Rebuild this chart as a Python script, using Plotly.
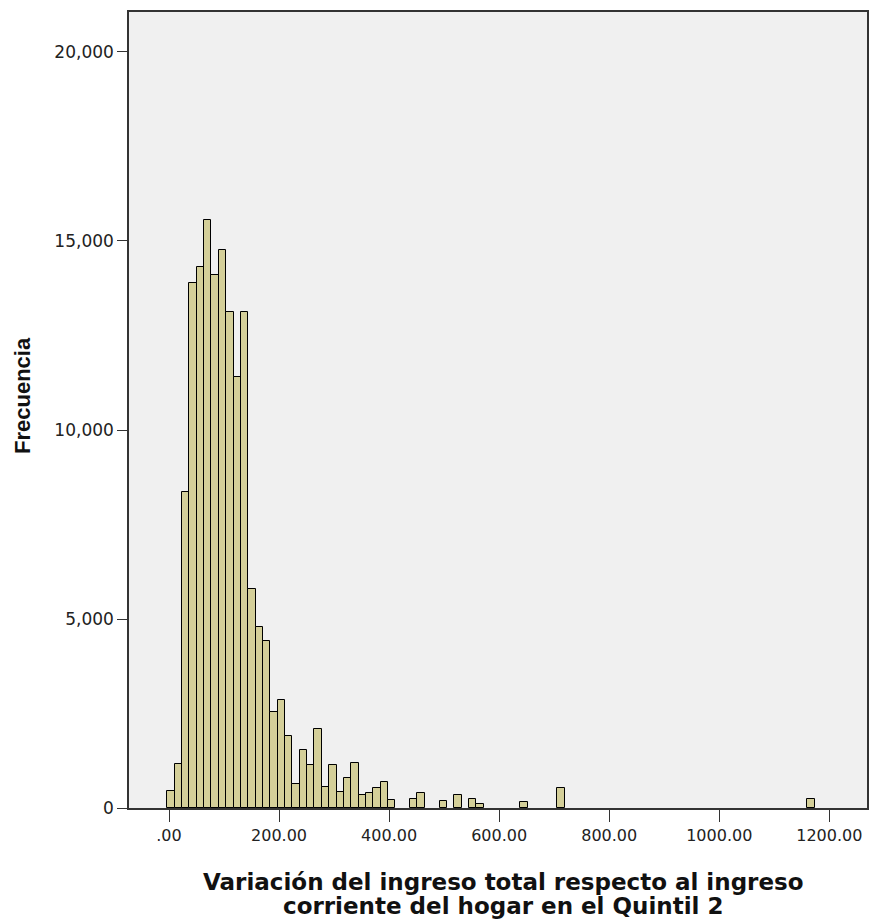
import plotly.graph_objects as go

# Histogram data
bin_start = -3.0
bin_width = 13.37
counts = [
    460, 1170, 8350, 13900, 14320, 15560, 14100, 14760, 13130, 11400,
    13110, 5790, 4790, 4430, 2530, 2850, 1910, 630, 1530, 1140,
    2080, 565, 1140, 430, 785, 1180, 345, 390, 535, 690,
    200, 0, 0, 235, 405, 0, 0, 190, 0, 344,
    0, 238, 106, 0, 0, 0, 0, 0, 150, 0,
    0, 0, 0, 540, 0, 0, 0, 0, 0, 0,
    0, 0, 0, 0, 0, 0, 0, 0, 0, 0,
    0, 0, 0, 0, 0, 0, 0, 0, 0, 0,
    0, 0, 0, 0, 0, 0, 0, 238,
]
x_tick_vals = [0, 200, 400, 600, 800, 1000, 1200]
x_tick_text = [".00", "200.00", "400.00", "600.00", "800.00", "1000.00", "1200.00"]
y_tick_vals = [0, 5000, 10000, 15000, 20000]
y_tick_text = ["0", "5,000", "10,000", "15,000", "20,000"]
x_title_lines = ["Variación del ingreso total respecto al ingreso",
                 "corriente del hogar en el Quintil 2"]
y_title = "Frecuencia"

xs, ys = [], []
for i, c in enumerate(counts):
    if c > 0:
        xs.append(bin_start + bin_width * (i + 0.5))
        ys.append(c)

fig = go.Figure(
    go.Bar(
        x=xs,
        y=ys,
        width=bin_width,
        marker=dict(color="#D4CF99", line=dict(color="#000000", width=1)),
        hoverinfo="x+y",
    )
)

TICKFONT = "DejaVu Sans, Liberation Sans, Arial, sans-serif"
TITLEFONT = "DejaVu Sans, Liberation Sans, Arial, sans-serif"

W, H = 870, 924
ML, MR, MT, MB = 129, 3, 12, 116

fig.update_layout(
    width=W,
    height=H,
    margin=dict(l=ML, r=MR, t=MT, b=MB, autoexpand=False),
    paper_bgcolor="white",
    plot_bgcolor="#F0F0F0",
    showlegend=False,
    bargap=0,
    font=dict(family=TICKFONT, color="#000000"),
)

fig.update_xaxes(
    range=[-72.7, 1268.5],
    tickvals=x_tick_vals,
    ticktext=x_tick_text,
    ticks="outside",
    ticklen=12,
    tickcolor="#333333",
    tickfont=dict(size=16, family=TICKFONT, color="#222222"),
    showgrid=False,
    zeroline=False,
    showline=True,
    linecolor="#333333",
    linewidth=1.5,
    mirror=True,
    automargin=False,
)

fig.update_yaxes(
    range=[0, 21058],
    tickvals=y_tick_vals,
    ticktext=y_tick_text,
    ticks="outside",
    ticklen=10,
    tickcolor="#333333",
    tickfont=dict(size=17, family=TICKFONT, color="#222222"),
    showgrid=False,
    zeroline=False,
    showline=True,
    linecolor="#333333",
    linewidth=1.5,
    mirror=True,
    automargin=False,
)

plot_h = H - MT - MB
plot_w = W - ML - MR
for line, ypx in zip(x_title_lines, [882, 906]):
    fig.add_annotation(
        text=line,
        xref="paper", yref="paper",
        x=(503 - ML) / plot_w, y=-(ypx - (H - MB)) / plot_h,
        xanchor="center", yanchor="middle",
        showarrow=False,
        font=dict(size=23, family=TITLEFONT, color="#111111", weight="bold"),
    )
fig.add_annotation(
    text=y_title,
    xref="paper", yref="paper",
    x=-(ML - 22) / plot_w, y=(H - MB - 395) / plot_h,
    xanchor="center", yanchor="middle",
    textangle=-90,
    showarrow=False,
    font=dict(size=22, family="Liberation Sans, Arial, sans-serif", color="#111111", weight="bold"),
)

fig.write_html(
    "out.html",
    config={"displayModeBar": False},
    post_script="document.body.style.margin='0px';document.body.style.overflow='hidden';",
)
